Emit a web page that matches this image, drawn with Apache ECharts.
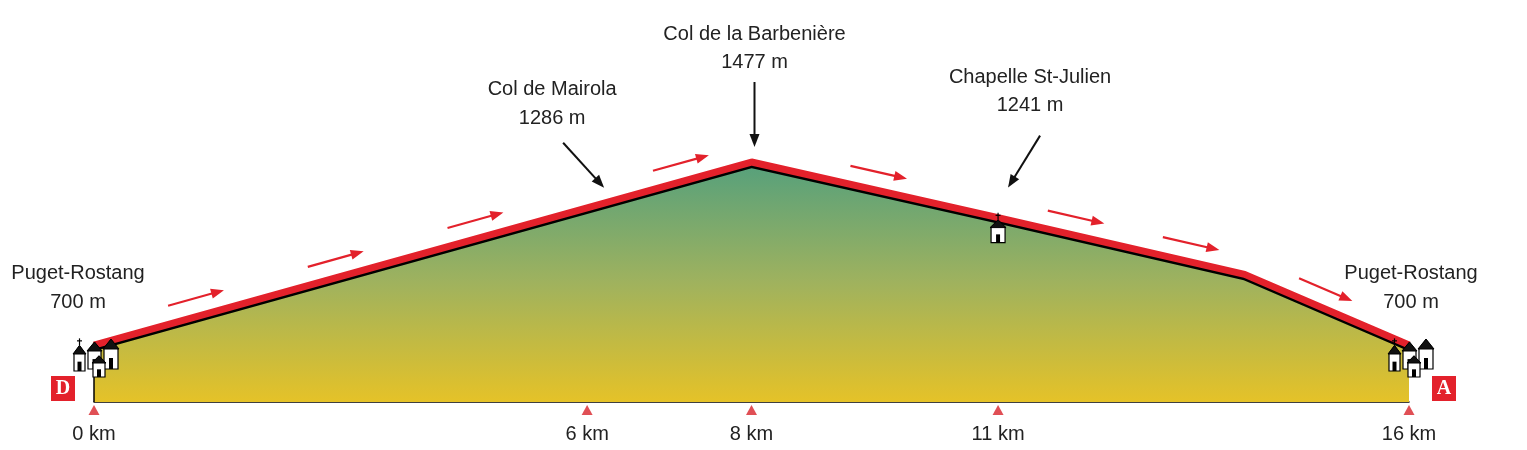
<!DOCTYPE html>
<html><head><meta charset="utf-8">
<script src="https://cdn.jsdelivr.net/npm/echarts@6/dist/echarts.min.js"></script>
<style>html,body{margin:0;padding:0;background:#fff}#c{width:1527px;height:450px}</style>
</head><body><div id="c"></div>
<script>
const profileKm = [0, 8, 11, 14, 16];
const profileElev = [700, 1477, 1241, 1000, 700];
const tickKm = [0, 6, 8, 11, 16];
const flowArrowKm = [1.3, 3.0, 4.7, 7.2, 9.5, 11.9, 13.3, 14.9];
const poiNames = ['Col de Mairola', 'Col de la Barbenière', 'Chapelle St-Julien'];
const poiKm = [6, 8, 11];
const poiElev = [1286, 1477, 1241];
const villageName = 'Puget-Rostang';
const villageElev = 700;
const villageKm = [0, 16];
const yMin = 458, yMax = 2165;

function elevAt(k){
  for(let i=0;i<profileKm.length-1;i++){
    if(k>=profileKm[i]&&k<=profileKm[i+1]){
      const t=(k-profileKm[i])/(profileKm[i+1]-profileKm[i]);
      return profileElev[i]+t*(profileElev[i+1]-profileElev[i]);
    }
  }
  return profileElev[profileElev.length-1];
}
const RED='#e3212b';
const FONT='Liberation Sans, Arial, sans-serif';
const chart=echarts.init(document.getElementById('c'));

function house(x,y,w,h,church){
  const roofH=h*0.45;
  const els=[
    {type:'polygon',shape:{points:[[x,y],[x+w,y],[x+w,y-h],[x+w/2,y-h-roofH],[x,y-h]]},style:{fill:'#fff',stroke:'#000',lineWidth:1.2}},
    {type:'polygon',shape:{points:[[x-1,y-h],[x+w/2,y-h-roofH-1],[x+w+1,y-h]]},style:{fill:'#111',stroke:'#000',lineWidth:1}},
    {type:'rect',shape:{x:x+w/2-2,y:y-h*0.55,width:4,height:h*0.55},style:{fill:'#000'}}
  ];
  if(church){
    els.push({type:'line',shape:{x1:x+w/2,y1:y-h-roofH-1,x2:x+w/2,y2:y-h-roofH-8},style:{stroke:'#000',lineWidth:1.2}});
    els.push({type:'line',shape:{x1:x+w/2-2.5,y1:y-h-roofH-5.5,x2:x+w/2+2.5,y2:y-h-roofH-5.5},style:{stroke:'#000',lineWidth:1.2}});
  }
  return els;
}

chart.setOption({
  animation:false,
  grid:{left:94,right:118,top:0,bottom:48},
  xAxis:{type:'value',min:0,max:16,
    axisLine:{show:true,onZero:false,lineStyle:{color:'#000',width:1.5}},
    axisTick:{show:false},splitLine:{show:false},
    axisLabel:{customValues:tickKm,formatter:'{value} km',margin:22,color:'#222',fontSize:20,fontFamily:FONT}},
  yAxis:{type:'value',min:yMin,max:yMax,show:false,splitLine:{show:false}},
  series:[
    {type:'line',data:profileKm.map((k,i)=>[k,profileElev[i]]),symbol:'none',z:3,
      lineStyle:{color:RED,width:7,shadowColor:'#000',shadowOffsetY:2.5,shadowBlur:0},
      areaStyle:{opacity:1,color:new echarts.graphic.LinearGradient(0,0,0,1,[{offset:0,color:'#55a07c'},{offset:0.5,color:'#9fb25e'},{offset:1,color:'#e5c228'}])}},
    {type:'custom',z:4,data:[[0]],renderItem:(p,api)=>{
      const a=api.coord([0,yMin]),b=api.coord([0,profileElev[0]]);
      return {type:'line',shape:{x1:a[0],y1:a[1],x2:b[0],y2:b[1]},style:{stroke:'#000',lineWidth:1.5}};
    }},
    {type:'scatter',z:5,data:tickKm.map(k=>[k,yMin]),symbol:'triangle',symbolSize:[11,10],symbolOffset:[0,8],itemStyle:{color:'#d8232a'}},
    {type:'custom',z:6,data:flowArrowKm.map(k=>[k]),renderItem:(p,api)=>{
      const k=api.value(0);
      const p1=api.coord([k-0.3,elevAt(k-0.3)]),p2=api.coord([k+0.3,elevAt(k+0.3)]);
      let dx=p2[0]-p1[0],dy=p2[1]-p1[1];const L=Math.hypot(dx,dy);dx/=L;dy/=L;
      const c=api.coord([k,elevAt(k)]);const nx=dy,ny=-dx;
      const cx=c[0]+nx*18,cy=c[1]+ny*18;
      const s=[cx-dx*29,cy-dy*29],e=[cx+dx*29,cy+dy*29];
      return {type:'group',children:[
        {type:'line',shape:{x1:s[0],y1:s[1],x2:e[0]-dx*6,y2:e[1]-dy*6},style:{stroke:RED,lineWidth:2.2}},
        {type:'polygon',shape:{points:[e,[e[0]-dx*13+nx*5,e[1]-dy*13+ny*5],[e[0]-dx*13-nx*5,e[1]-dy*13-ny*5]]},style:{fill:RED}}
      ]};
    }},
    {type:'custom',z:7,data:poiKm.map((k,i)=>[k,poiElev[i],i]),renderItem:(p,api)=>{
      const i=api.value(2);const k=api.value(0);
      const c=api.coord([k,elevAt(k)]);
      const offs=[[[-24,-65],[17,-20],[-35,-118],[-35,-89]],[[3,-80],[3,-15],[3,-128],[3,-100]],[[42,-82],[10,-30],[32,-140],[32,-112]]][i];
      const s=[c[0]+offs[0][0],c[1]+offs[0][1]],e=[c[0]+offs[1][0],c[1]+offs[1][1]];
      let dx=e[0]-s[0],dy=e[1]-s[1];const L=Math.hypot(dx,dy);dx/=L;dy/=L;
      const ch=[
        {type:'line',shape:{x1:s[0],y1:s[1],x2:e[0]-dx*8,y2:e[1]-dy*8},style:{stroke:'#111',lineWidth:2}},
        {type:'polygon',shape:{points:[e,[e[0]-dx*13+dy*5,e[1]-dy*13-dx*5],[e[0]-dx*13-dy*5,e[1]-dy*13+dx*5]]},style:{fill:'#111'}},
        {type:'text',style:{x:c[0]+offs[2][0],y:c[1]+offs[2][1],text:poiNames[i],align:'center',verticalAlign:'middle',fill:'#222',font:'20px '+FONT}},
        {type:'text',style:{x:c[0]+offs[3][0],y:c[1]+offs[3][1],text:api.value(1)+' m',align:'center',verticalAlign:'middle',fill:'#222',font:'20px '+FONT}}
      ];
      if(i===2){ house(c[0]-7,c[1]+25,14,15,true).forEach(x=>ch.push(x)); }
      return {type:'group',children:ch};
    }},
    {type:'custom',z:8,data:villageKm.map(k=>[k]),renderItem:(p,api)=>{
      const k=api.value(0);const c=api.coord([k,villageElev]);
      const ch=[];
      const hs=[[-20,26,11,17,true],[-6,24,13,18,false],[10,24,14,20,false],[-1,32,12,14,false]];
      hs.forEach(h=>house(c[0]+h[0],c[1]+h[1],h[2],h[3],h[4]).forEach(x=>ch.push(x)));
      ch.push({type:'text',style:{x:c[0]-16+(k>0?18:0),y:c[1]-72,text:villageName,align:'center',verticalAlign:'middle',fill:'#222',font:'20px '+FONT}});
      ch.push({type:'text',style:{x:c[0]-16+(k>0?18:0),y:c[1]-43,text:villageElev+' m',align:'center',verticalAlign:'middle',fill:'#222',font:'20px '+FONT}});
      const bx=k===0?c[0]-43:c[0]+23;
      ch.push({type:'rect',shape:{x:bx,y:c[1]+31,width:24,height:25},style:{fill:RED}});
      ch.push({type:'text',style:{x:bx+12,y:c[1]+44,text:k===0?'D':'A',align:'center',verticalAlign:'middle',fill:'#fff',font:'bold 20px Liberation Serif, serif'}});
      return {type:'group',children:ch};
    }}
  ]
});
</script></body></html>
